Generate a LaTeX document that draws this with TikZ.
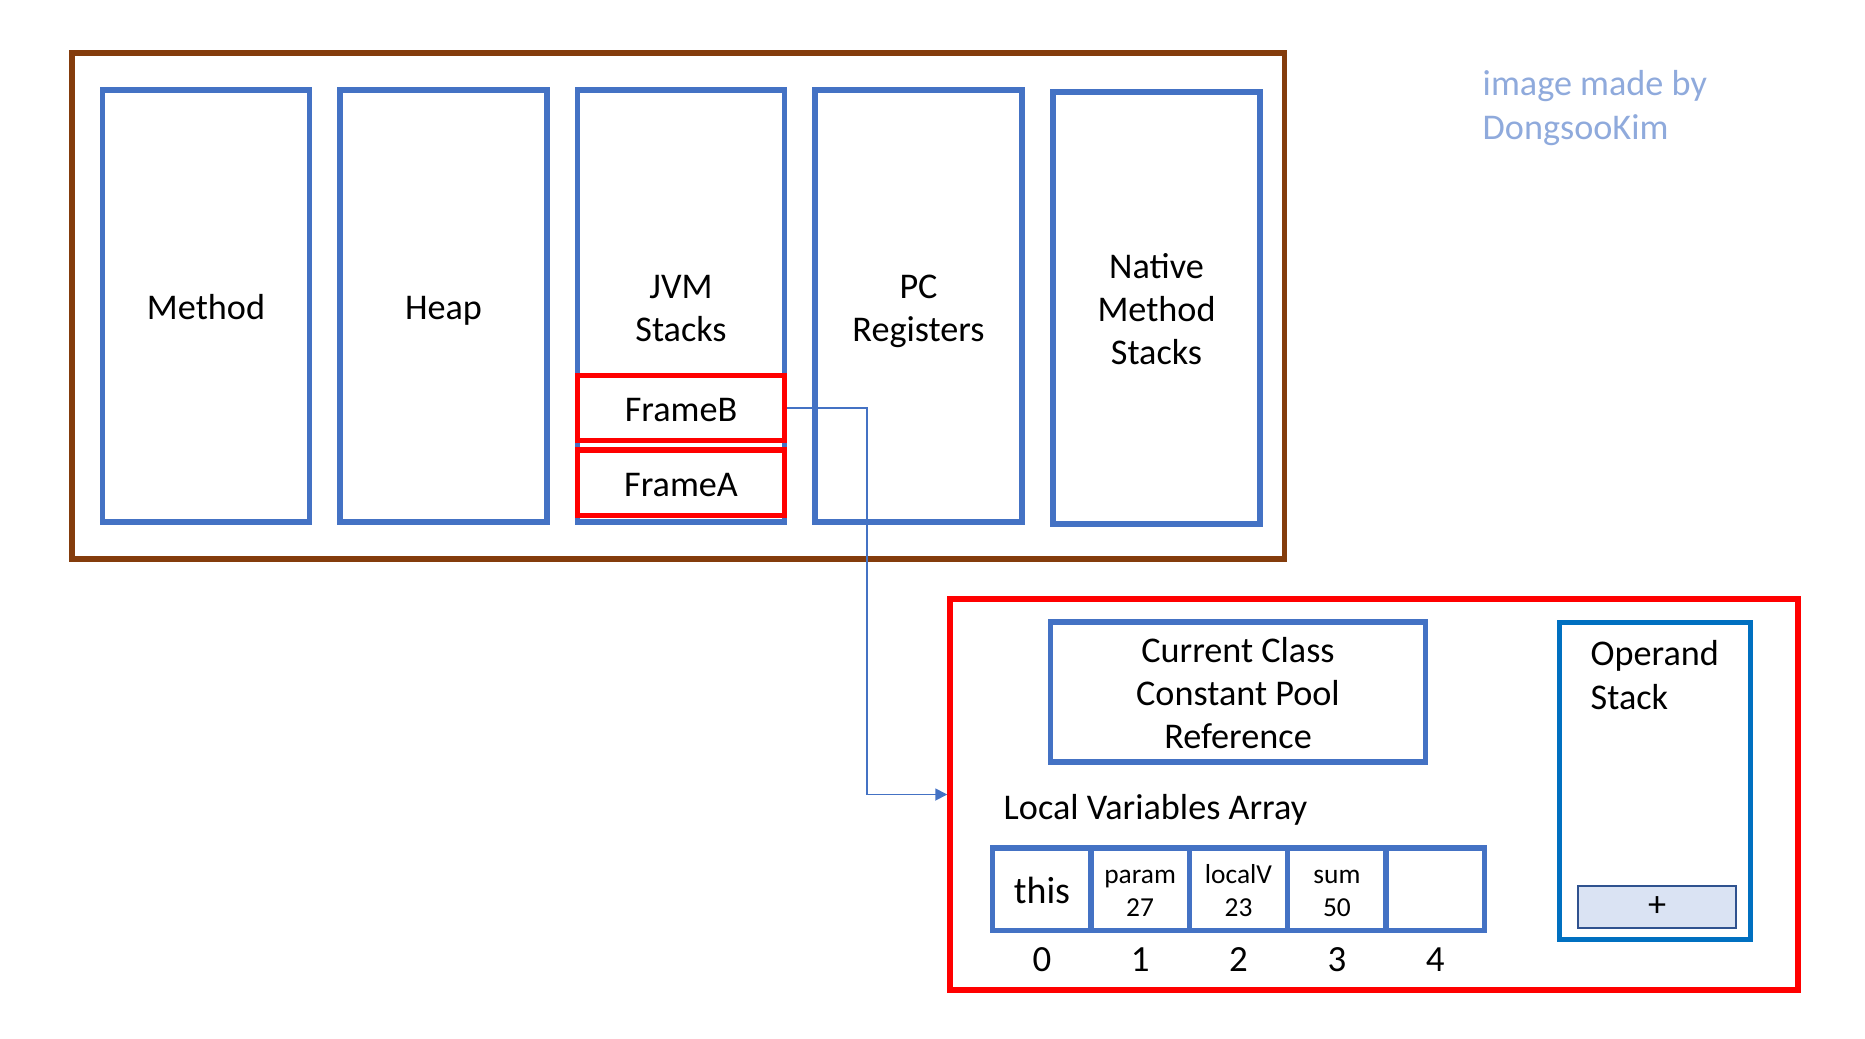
\documentclass[tikz,border=0pt]{standalone}
\usepackage{fontspec}
\setmainfont{Carlito}
\usetikzlibrary{arrows.meta,positioning}
\definecolor{jvmblue}{HTML}{4472C4}
\definecolor{jvmred}{HTML}{FF0000}
\definecolor{jvmbrown}{HTML}{843C0C}
\definecolor{opblue}{HTML}{0070C0}
\definecolor{plusfill}{HTML}{DAE3F3}
\definecolor{plusdraw}{HTML}{2F528F}
\definecolor{notegray}{HTML}{8FAADC}
\newcommand{\lstrut}{\rule[-0.22em]{0pt}{1.2em}}

\begin{document}
\begin{tikzpicture}[
    boxtext/.style={execute at end node=\lstrut},
    area/.style={rectangle, draw=jvmblue, line width=1.45pt, minimum width=2.07cm,
                 minimum height=4.32cm, align=center, inner sep=0pt, boxtext},
    framebox/.style={rectangle, draw=jvmred, line width=1.5pt, minimum width=2.07cm,
                     minimum height=0.655cm, inner sep=0pt, boxtext},
    cell/.style={rectangle, draw=jvmblue, line width=1.5pt, minimum width=0.984cm,
                 minimum height=0.825cm, align=center, inner sep=0pt, boxtext},
    small/.style={font=\fontsize{7.8}{9.4}\selectfont},
    arr/.style={-{Triangle[length=0.12cm, width=0.12cm]}, jvmblue, line width=0.5pt},
    every node/.style={font=\fontsize{10.3}{12.3}\selectfont}
  ]
  \useasboundingbox (0,0) rectangle (18.65,10.38);

  % ---- Runtime data areas ----
  \node[rectangle, draw=jvmbrown, line width=1.55pt, minimum width=12.125cm,
        minimum height=5.06cm] (mem) at (6.783,7.32) {};

  \node[area] (method) at (2.06,7.32) {Method};
  \node[area] (heap)   at (4.435,7.32) {Heap};
  \node[area] (jvm)    at (6.81,7.32) {\lstrut JVM\\Stacks};
  \node[area] (pc)     at (9.185,7.32) {\lstrut PC\\Registers};
  \node[area] (native) at (11.565,7.30) {\lstrut Native\\Method\\Stacks};

  % ---- Frames on the JVM stack ----
  \node[framebox] (fb) at (6.81,6.30) {FrameB};
  \node[framebox, below=0.04cm of fb] (fa) {FrameA};

  % ---- Note ----
  \node[text=notegray, align=left, anchor=west, inner sep=0pt] (note)
    at (14.82,9.30) {image made by\\DongsooKim};

  % ---- Frame detail ----
  \node[rectangle, draw=jvmred, line width=1.7pt, minimum width=8.475cm,
        minimum height=3.91cm] (detail) at (13.74,2.435) {};

  \node[rectangle, draw=jvmblue, line width=1.5pt, minimum width=3.745cm,
        minimum height=1.40cm, align=center, inner sep=0pt, boxtext]
    (pool) at (12.38,3.46) {\lstrut Current Class\\Constant Pool\\Reference};

  \node[anchor=west, inner sep=0pt] (lvlabel) at (10.03,2.28)
    {Local Variables Array};

  % Local variable slots
  \node[cell, font=\fontsize{10.8}{12.5}\selectfont] (c0) at (10.42,1.4875) {this};
  \node[cell, small] (c1) at (11.401,1.4875) {\lstrut param\\27};
  \node[cell, small] (c2) at (12.385,1.4875) {\lstrut localV\\23};
  \node[cell, small] (c3) at (13.369,1.4875) {\lstrut sum\\50};
  \node[cell] (c4) at (14.353,1.4875) {};

  \foreach \i in {0,...,4}{
    \node[below=0.02cm of c\i, font=\fontsize{10.5}{12.5}\selectfont] (idx\i) {\i};
  }

  % Operand stack
  \node[rectangle, draw=opblue, line width=1.45pt, minimum width=1.91cm,
        minimum height=3.175cm] (op) at (16.55,2.57) {};
  \node[align=left, anchor=west, inner sep=0pt] (optext) at (15.90,3.63)
    {Operand\\Stack};
  \node[rectangle, fill=plusfill, draw=plusdraw, line width=0.6pt,
        minimum width=1.58cm, minimum height=0.42cm, inner sep=0pt]
    (plus) at (16.57,1.31) {+};

  % ---- FrameB -> detail ----
  \draw[arr] (fb.east) -- ++(0.8,0) |- (detail.west);

\end{tikzpicture}
\end{document}
